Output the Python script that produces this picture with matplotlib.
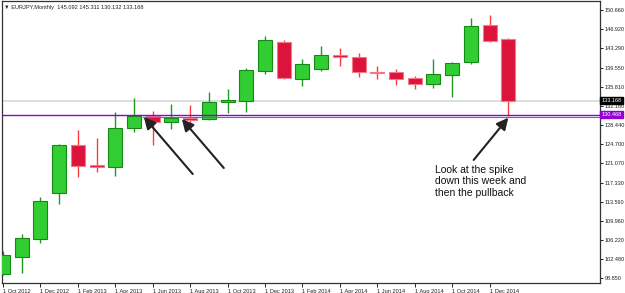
import matplotlib
matplotlib.use("Agg")
import matplotlib.pyplot as plt
import matplotlib.transforms as mtransforms
import numpy as np

months = ["Oct 2012", "Nov 2012", "Dec 2012", "Jan 2013", "Feb 2013", "Mar 2013", "Apr 2013",
          "May 2013", "Jun 2013", "Jul 2013", "Aug 2013", "Sep 2013", "Oct 2013", "Nov 2013",
          "Dec 2013", "Jan 2014", "Feb 2014", "Mar 2014", "Apr 2014", "May 2014", "Jun 2014",
          "Jul 2014", "Aug 2014", "Sep 2014", "Oct 2014", "Nov 2014", "Dec 2014", "Jan 2015"]
opens = [99.60, 103.02, 106.50, 115.26, 124.53, 120.67, 120.40, 127.82, 130.25, 129.09, 129.86,
         129.61, 132.84, 133.15, 138.94, 144.54, 137.28, 139.32, 141.97, 141.64, 138.75, 138.63,
         137.47, 136.43, 138.17, 140.68, 147.86, 145.092]
highs = [104.18, 107.35, 114.49, 124.78, 127.49, 125.89, 130.91, 133.67, 131.21, 132.51, 132.31,
         134.83, 135.41, 139.52, 145.70, 144.87, 141.14, 143.71, 143.26, 142.30, 139.90, 139.27,
         137.92, 141.14, 140.60, 149.06, 149.69, 145.311]
lows = [99.40, 99.82, 105.61, 113.14, 118.35, 119.44, 118.66, 127.16, 124.59, 127.68, 127.49,
        129.40, 130.83, 131.02, 138.24, 137.28, 135.98, 138.88, 139.90, 137.78, 137.34, 136.12,
        135.41, 135.54, 133.92, 140.17, 144.48, 130.132]
closes = [103.30, 106.57, 113.84, 124.53, 120.59, 120.34, 127.82, 130.25, 129.09, 129.86, 129.42,
          132.89, 133.28, 139.07, 144.87, 137.47, 140.23, 141.91, 141.64, 138.63, 138.49, 137.39,
          136.43, 138.30, 140.48, 147.57, 144.77, 133.168]

y_ticks = [150.660, 146.920, 143.290, 139.550, 135.810, 132.180, 128.440, 124.700, 121.070,
           117.330, 113.590, 109.960, 106.220, 102.480, 98.850]
x_tick_labels = ["1 " + m for m in months[::2]]

current_price = 133.168
purple_level = 130.468
blue_level = 130.08
header = "\u25bc EURJPY,Monthly  145.092 145.311 130.132 133.168"
note = "Look at the spike\ndown this week and\nthen the pullback"

plt.rcParams['font.family'] = ['Liberation Sans', 'DejaVu Sans']

fig = plt.figure(figsize=(6.25, 2.93), dpi=100)
ax = fig.add_axes([2/625, 10/293, 598/625, 282/293])

x = np.arange(len(months))
o = np.array(opens); c = np.array(closes); h = np.array(highs); l = np.array(lows)
up = c >= o
w = 0.75

# wicks
ax.vlines(x[up], l[up], h[up], color='#1f9a1f', lw=1.0, zorder=2)
ax.vlines(x[~up], l[~up], h[~up], color='#ff3a3a', lw=1.0, zorder=2)
# bodies
bot = np.minimum(o, c)
hgt = np.maximum(np.abs(c - o), 0.12)
ax.bar(x[up], hgt[up], bottom=bot[up], width=w, color='#32cd32', edgecolor='#138a13',
       lw=0.8, zorder=3)
ax.bar(x[~up], hgt[~up], bottom=bot[~up], width=w, color='#dc143c', edgecolor='#f07a8a',
       lw=0.8, zorder=3)

# horizontal lines
ax.axhline(current_price, color='#d9d9d9', lw=1.2, zorder=1)
ax.plot([7.5, 32], [blue_level, blue_level], color='#3a7fd0', lw=0.8, zorder=4)
ax.axhline(purple_level, color='#9400d3', lw=1.0, zorder=5)

ax.set_xlim(-0.05, 31.9)
ax.set_ylim(97.94, 152.4)

# arrows
arrow_kw = dict(arrowstyle='-|>,head_length=0.7,head_width=0.35', color='#222222', lw=1.5,
                shrinkA=0, shrinkB=0)
ax.annotate('', xy=(7.53, 130.0), xytext=(10.14, 118.99), arrowprops=arrow_kw, zorder=6)
ax.annotate('', xy=(9.56, 129.61), xytext=(11.80, 120.15), arrowprops=arrow_kw, zorder=6)
ax.annotate('', xy=(27.0, 129.86), xytext=(25.15, 121.70), arrowprops=arrow_kw, zorder=6)

ax.text(23.07, 120.8, note, fontsize=7.5, va='top', ha='left', color='#111111',
        linespacing=1.2, zorder=6)

# axes styling
for s in ax.spines.values():
    s.set_color('#333333')
    s.set_linewidth(0.9)

ax.set_xticks(x[::2])
ax.set_xticklabels(x_tick_labels)
ax.tick_params(axis='x', direction='out', length=3, width=0.7, labelsize=4.1, pad=1.2,
               colors='#222222')
for t in ax.get_xticklabels():
    t.set_ha('left')

ax.yaxis.tick_right()
ax.set_yticks(y_ticks)
ax.set_yticklabels([f"{v:.3f}" for v in y_ticks])
ax.tick_params(axis='y', direction='out', length=2.5, width=0.7, labelsize=4.0, pad=0.8,
               colors='#222222')

trans = mtransforms.blended_transform_factory(ax.transAxes, ax.transData)
ax.text(1.003, current_price, f"{current_price:.3f}", transform=trans, fontsize=4.0,
        color='white', va='center', ha='left', zorder=10, clip_on=False,
        bbox=dict(boxstyle='square,pad=0.25', fc='black', ec='black'))
ax.text(1.003, purple_level, f"{purple_level:.3f}", transform=trans, fontsize=4.0,
        color='white', va='center', ha='left', zorder=10, clip_on=False,
        bbox=dict(boxstyle='square,pad=0.25', fc='#9400d3', ec='#9400d3'))

fig.text(4/625, 1 - 7/293, header, fontsize=4.1, va='center', ha='left', color='#222222')

fig.savefig("out.png", dpi=100)
